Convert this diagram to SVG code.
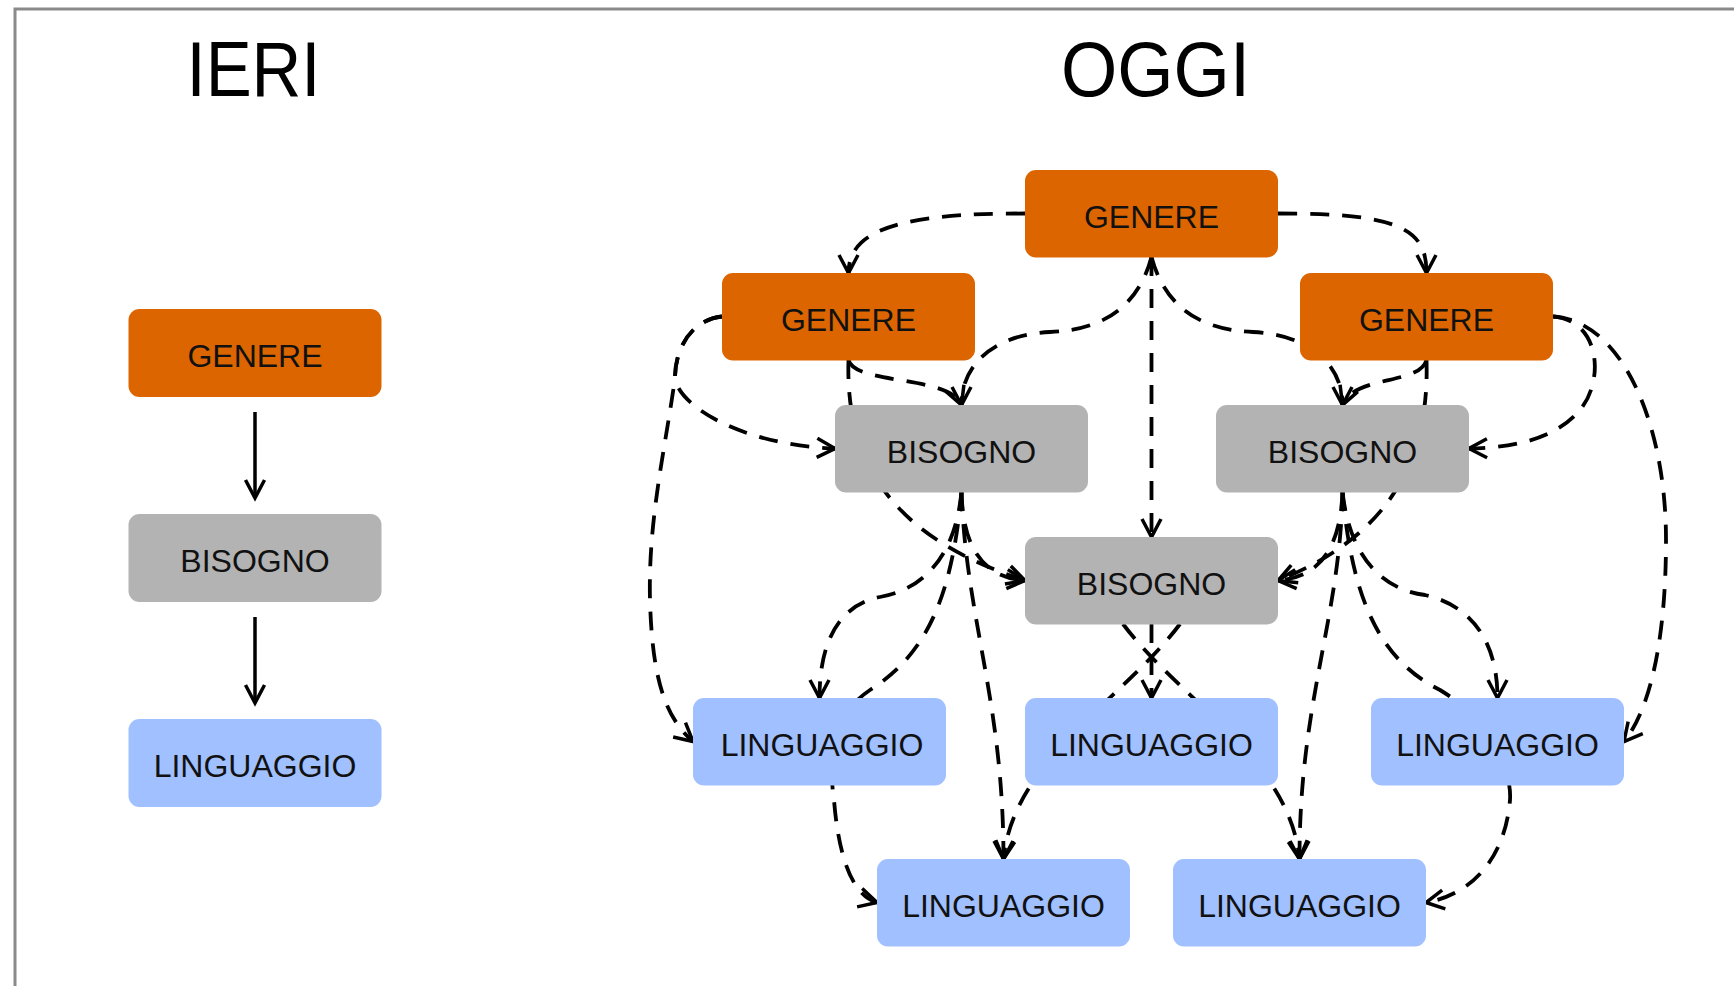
<svg xmlns="http://www.w3.org/2000/svg" width="1734" height="986" viewBox="0 0 1734 986">
<defs>
<style>
.box{stroke:none}
.gen{fill:#dd6500}
.bis{fill:#b3b3b3}
.lin{fill:#a1c0ff}
.lbl{font-family:"Liberation Sans",Arial,sans-serif;font-size:32px;fill:#111;text-anchor:middle}
.title{font-family:"Liberation Sans",Arial,sans-serif;font-size:78px;fill:#000;text-anchor:middle}
.dash{fill:none;stroke:#000;stroke-width:3.8;stroke-dasharray:19 13;marker-end:url(#arr)}
.solid{fill:none;stroke:#000;stroke-width:3.5;marker-end:url(#arr)}
</style>
<marker id="arr" viewBox="-22 -12 26 24" refX="0" refY="0" markerWidth="26" markerHeight="24" markerUnits="userSpaceOnUse" orient="auto" overflow="visible">
<path d="M-18,-9.5 L0,0 L-18,9.5" fill="none" stroke="#000" stroke-width="3.5" stroke-dasharray="none"/>
</marker>
</defs>
<rect x="0" y="0" width="1734" height="986" fill="#fff"/>
<path d="M15,990 L15,9 L1740,9" fill="none" stroke="#8a8a8a" stroke-width="3"/>
<text class="title" x="253.5" y="96" textLength="134" lengthAdjust="spacingAndGlyphs">IERI</text>
<text class="title" x="1155.5" y="96" textLength="189" lengthAdjust="spacingAndGlyphs">OGGI</text>
<g id="connectors">
<path class="solid" d="M255,412 L255,498"/>
<path class="solid" d="M255,617 L255,703"/>
<path class="dash" d="M1025,213.5 C900,213 848.5,230 848.5,273"/>
<path class="dash" d="M1278,213.5 C1402,213 1426.5,230 1426.5,273"/>
<path class="dash" d="M1151.5,257 L1151.5,537"/>
<path class="dash" d="M1151.5,257 C1140,300 1110,330 1050,332 C1000,334 961.5,360 961.5,405"/>
<path class="dash" d="M1151.5,257 C1163,300 1193,330 1253,332 C1303,334 1342.5,360 1342.5,405"/>
<path class="dash" d="M848.5,360 C855,385 950,375 961.5,405"/>
<path class="dash" d="M848.5,360 C845,470 900,540 1025,580.5"/>
<path class="dash" d="M1426.5,360 C1420,385 1354,375 1342.5,405"/>
<path class="dash" d="M1426.5,360 C1430,470 1380,540 1278,580.5"/>
<path class="dash" d="M722,316.5 C690,320 675,350 675,378 C678,405 740,445 835,448.5"/>
<path class="dash" d="M722,316.5 C690,320 675,350 675,378 C665,450 648,520 650,600 C652,670 662,715 693,741.5"/>
<path class="dash" d="M1553,316.5 C1600,320 1605,380 1580,410 C1555,440 1510,448 1469,448.5"/>
<path class="dash" d="M1553,316.5 C1620,320 1666,420 1666,540 C1666,640 1650,710 1624,741.5"/>
<path class="dash" d="M961.5,492 C963,560 993,578 1025,580.5"/>
<path class="dash" d="M1342.5,492 C1340,560 1310,578 1278,580.5"/>
<path class="dash" d="M961.5,492 C955,560 920,590 880,597 C840,605 819.5,640 819.5,698"/>
<path class="dash" d="M961.5,492 C966,620 1003.5,700 1003.5,859"/>
<path class="dash" d="M961.5,492 C952,600 925,655 870,690 C825,720 830,770 834,800 C838,850 850,895 877,902.5"/>
<path class="dash" d="M1342.5,492 C1350,560 1385,590 1425,595 C1470,605 1497.5,640 1497.5,698"/>
<path class="dash" d="M1342.5,492 C1340,620 1299.5,700 1299.5,859"/>
<path class="dash" d="M1342.5,492 C1352,600 1380,660 1440,690 C1490,720 1512,770 1510,800 C1505,860 1470,895 1426,902.5"/>
<path class="dash" d="M1151.5,624 L1151.5,698"/>
<path class="dash" d="M1180,624 C1123,700 1013,760 1003.5,859"/>
<path class="dash" d="M1123,624 C1180,700 1290,760 1299.5,859"/>
</g>
<g id="ieri-genere"><rect class="box gen" x="128.5" y="309" width="253" height="88" rx="11"/><text class="lbl" x="255" y="367">GENERE</text></g>
<g id="ieri-bisogno"><rect class="box bis" x="128.5" y="514" width="253" height="88" rx="11"/><text class="lbl" x="255" y="572">BISOGNO</text></g>
<g id="ieri-linguaggio"><rect class="box lin" x="128.5" y="719" width="253" height="88" rx="11"/><text class="lbl" x="255" y="777">LINGUAGGIO</text></g>
<g id="g0"><rect class="box gen" x="1025" y="170" width="253" height="87.5" rx="11"/><text class="lbl" x="1151.5" y="228">GENERE</text></g>
<g id="g1"><rect class="box gen" x="722" y="273" width="253" height="87.5" rx="11"/><text class="lbl" x="848.5" y="331">GENERE</text></g>
<g id="g2"><rect class="box gen" x="1300" y="273" width="253" height="87.5" rx="11"/><text class="lbl" x="1426.5" y="331">GENERE</text></g>
<g id="b1"><rect class="box bis" x="835" y="405" width="253" height="87.5" rx="11"/><text class="lbl" x="961.5" y="463">BISOGNO</text></g>
<g id="b2"><rect class="box bis" x="1216" y="405" width="253" height="87.5" rx="11"/><text class="lbl" x="1342.5" y="463">BISOGNO</text></g>
<g id="b0"><rect class="box bis" x="1025" y="537" width="253" height="87.5" rx="11"/><text class="lbl" x="1151.5" y="595">BISOGNO</text></g>
<g id="l1"><rect class="box lin" x="693" y="698" width="253" height="87.5" rx="11"/><text class="lbl" x="822" y="756">LINGUAGGIO</text></g>
<g id="l0"><rect class="box lin" x="1025" y="698" width="253" height="87.5" rx="11"/><text class="lbl" x="1151.5" y="756">LINGUAGGIO</text></g>
<g id="l2"><rect class="box lin" x="1371" y="698" width="253" height="87.5" rx="11"/><text class="lbl" x="1497.5" y="756">LINGUAGGIO</text></g>
<g id="l3"><rect class="box lin" x="877" y="859" width="253" height="87.5" rx="11"/><text class="lbl" x="1003.5" y="917">LINGUAGGIO</text></g>
<g id="l4"><rect class="box lin" x="1173" y="859" width="253" height="87.5" rx="11"/><text class="lbl" x="1299.5" y="917">LINGUAGGIO</text></g>
</svg>
